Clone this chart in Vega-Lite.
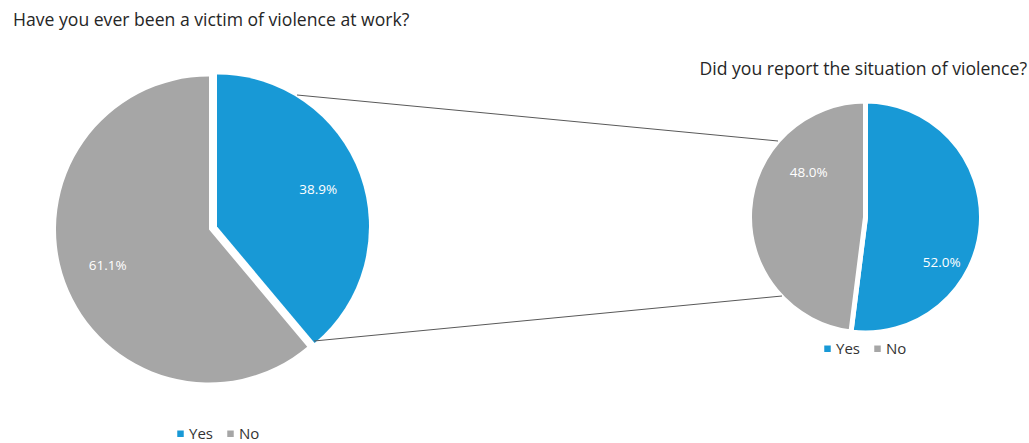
{
  "$schema": "https://vega.github.io/schema/vega-lite/v6.json",
  "width": 1029,
  "height": 443,
  "autosize": "none",
  "padding": 0,
  "background": "#ffffff",
  "config": {
    "view": {"stroke": null},
    "font": "Open Sans",
    "legend": {
      "orient": "none",
      "direction": "horizontal",
      "title": null,
      "symbolType": "square",
      "symbolSize": 42,
      "symbolStrokeWidth": 0,
      "labelFontSize": 15,
      "labelColor": "#333333",
      "labelOffset": 1,
      "columnPadding": 10,
      "padding": 0
    }
  },
  "datasets": {
    "victim": [
      {"answer": "Yes", "share": 0.389},
      {"answer": "No", "share": 0.611}
    ],
    "reported": [
      {"answer": "Yes", "share": 0.52},
      {"answer": "No", "share": 0.48}
    ],
    "titles": [
      {"chart": "main", "question": "Have you ever been a victim of violence at work?"},
      {"chart": "detail", "question": "Did you report the situation of violence?"}
    ],
    "connectors": [
      {"link": "top"},
      {"link": "bottom"}
    ]
  },
  "layer": [
    {
      "data": {"name": "victim"},
      "transform": [
        {"stack": "share", "groupby": [], "sort": [{"field": "answer", "order": "descending"}], "as": ["s0", "s1"]},
        {"calculate": "(datum.s0 + datum.s1) / 2", "as": "smid"}
      ],
      "layer": [
        {
          "transform": [{"filter": "datum.answer === 'No'"}],
          "mark": {"type": "arc", "x": 209, "y": 229.5, "outerRadius": 153},
          "encoding": {
            "theta": {"field": "s0", "type": "quantitative", "scale": {"domain": [0, 1]}, "stack": null},
            "theta2": {"field": "s1"},
            "color": {"field": "answer", "type": "nominal", "scale": {"domain": ["Yes", "No"], "range": ["#1899D6", "#A6A6A6"]}, "legend": {"legendX": 173, "legendY": 426}}
          }
        },
        {
          "transform": [{"filter": "datum.answer === 'Yes'"}],
          "mark": {"type": "arc", "x": 217, "y": 226.5, "outerRadius": 152},
          "encoding": {
            "theta": {"field": "s0", "type": "quantitative", "scale": {"domain": [0, 1]}, "stack": null},
            "theta2": {"field": "s1"},
            "color": {"field": "answer", "type": "nominal", "scale": {"domain": ["Yes", "No"], "range": ["#1899D6", "#A6A6A6"]}, "legend": {"legendX": 173, "legendY": 426}}
          }
        },
        {
          "mark": {"type": "text", "x": 213, "y": 228, "radius": 112, "fill": "#ffffff", "fontSize": 13.5, "align": "center", "baseline": "middle"},
          "encoding": {
            "theta": {"field": "smid", "type": "quantitative", "scale": {"domain": [0, 1]}, "stack": null},
            "text": {"field": "share", "type": "quantitative", "format": ".1%"}
          }
        }
      ]
    },
    {
      "data": {"name": "reported"},
      "transform": [
        {"stack": "share", "groupby": [], "sort": [{"field": "answer", "order": "descending"}], "as": ["s0", "s1"]},
        {"calculate": "(datum.s0 + datum.s1) / 2", "as": "smid"}
      ],
      "layer": [
        {
          "mark": {"type": "arc", "x": 865.5, "y": 217, "outerRadius": 116, "stroke": "#ffffff", "strokeWidth": 5},
          "encoding": {
            "theta": {"field": "s0", "type": "quantitative", "scale": {"domain": [0, 1]}, "stack": null},
            "theta2": {"field": "s1"},
            "color": {"field": "answer", "type": "nominal", "scale": {"domain": ["Yes", "No"], "range": ["#1899D6", "#A6A6A6"]}, "legend": {"legendX": 820, "legendY": 341}}
          }
        },
        {
          "transform": [{"filter": "datum.answer === 'No'"}],
          "mark": {"type": "text", "x": 865.5, "y": 217, "radius": 72, "thetaOffset": 0.6, "fill": "#ffffff", "fontSize": 13.5, "align": "center", "baseline": "middle"},
          "encoding": {
            "theta": {"field": "smid", "type": "quantitative", "scale": {"domain": [0, 1]}, "stack": null},
            "text": {"field": "share", "type": "quantitative", "format": ".1%"}
          }
        },
        {
          "transform": [{"filter": "datum.answer === 'Yes'"}],
          "mark": {"type": "text", "x": 865.5, "y": 217, "radius": 89, "thetaOffset": 0.478, "fill": "#ffffff", "fontSize": 13.5, "align": "center", "baseline": "middle"},
          "encoding": {
            "theta": {"field": "smid", "type": "quantitative", "scale": {"domain": [0, 1]}, "stack": null},
            "text": {"field": "share", "type": "quantitative", "format": ".1%"}
          }
        }
      ]
    },
    {
      "data": {"name": "connectors"},
      "transform": [{"filter": "datum.link === 'top'"}],
      "mark": {"type": "rule", "color": "#595959", "strokeWidth": 1},
      "encoding": {"x": {"value": 297}, "y": {"value": 95}, "x2": {"value": 778}, "y2": {"value": 141}}
    },
    {
      "data": {"name": "connectors"},
      "transform": [{"filter": "datum.link === 'bottom'"}],
      "mark": {"type": "rule", "color": "#595959", "strokeWidth": 1},
      "encoding": {"x": {"value": 314}, "y": {"value": 341}, "x2": {"value": 782}, "y2": {"value": 296}}
    },
    {
      "data": {"name": "titles"},
      "transform": [{"filter": "datum.chart === 'main'"}],
      "mark": {"type": "text", "x": 13, "y": 26, "align": "left", "baseline": "alphabetic", "fontSize": 17.6, "fill": "#262626"},
      "encoding": {"text": {"field": "question", "type": "nominal"}}
    },
    {
      "data": {"name": "titles"},
      "transform": [{"filter": "datum.chart === 'detail'"}],
      "mark": {"type": "text", "x": 1027, "y": 75, "align": "right", "baseline": "alphabetic", "fontSize": 17.6, "fill": "#262626"},
      "encoding": {"text": {"field": "question", "type": "nominal"}}
    }
  ],
  "resolve": {"scale": {"color": "independent"}, "legend": {"color": "independent"}}
}
